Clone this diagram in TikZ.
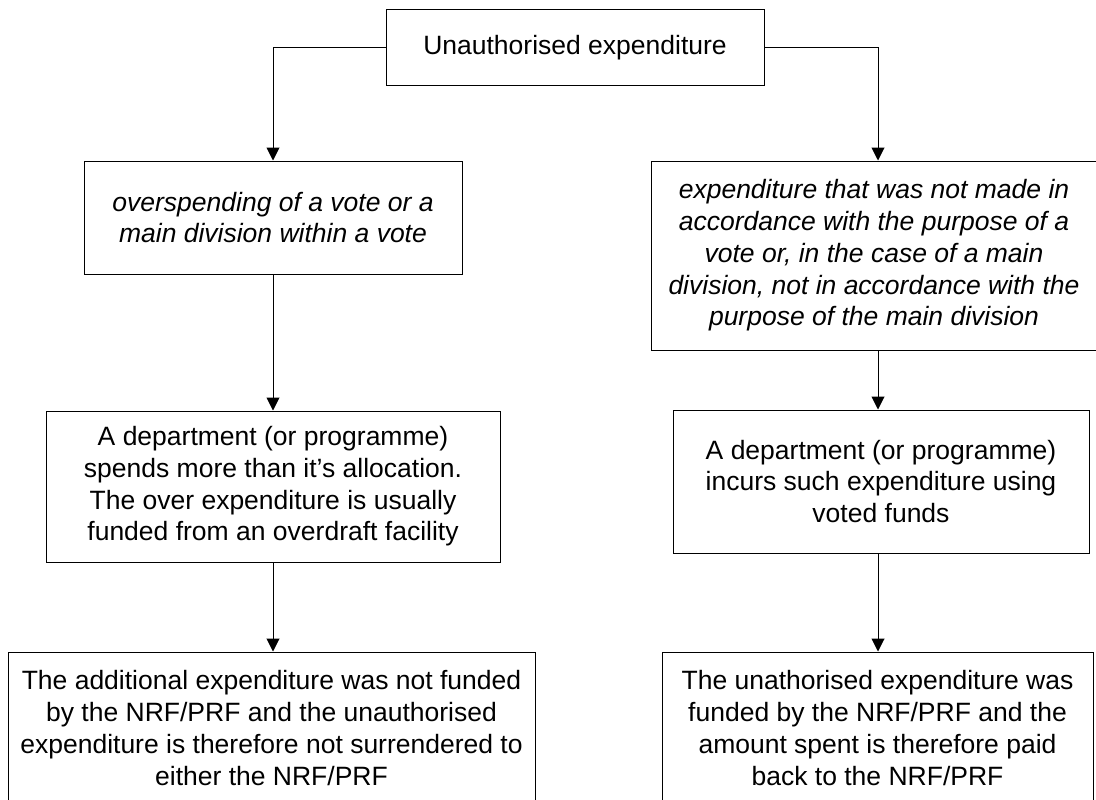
\documentclass[tikz,border=0pt]{standalone}
\usepackage{fontspec}
\setmainfont{Liberation Sans}
\usetikzlibrary{arrows.meta}
\usetikzlibrary{positioning}

\tikzset{
    flowbox/.style={draw, line width=1pt, inner sep=0pt, align=center,
        font=\fontsize{26.5}{31.7}\selectfont},
    itbox/.style={flowbox, font=\fontsize{26.5}{31.7}\selectfont\itshape},
    flowarrow/.style={line width=1pt, -{Triangle[length=13pt,width=13pt]}}
}

\begin{document}
\begin{tikzpicture}[x=1pt,y=-1pt]

    % PAGE SIZE
    \useasboundingbox (0,0) rectangle (1096,800);

    % DRAW BOXES
    \node[flowbox, minimum width=378pt, minimum height=76pt] (unauth) at (575,48) {Unauthorised expenditure};

    \node[itbox, minimum width=378pt, minimum height=113pt] (overspend) at (273,217.5)
        {overspending of a vote or a\\main division within a vote};
    \node[itbox, minimum width=446pt, minimum height=189pt] (purpose) at (874,255.5)
        {expenditure that was not made in\\accordance with the purpose of a\\vote or, in the case of a main\\division, not in accordance with the\\purpose of the main division};

    \node[flowbox, minimum width=454pt, minimum height=151pt] (allocation) at (273,486.5)
        {A department (or programme)\\spends more than it’s allocation.\\The over expenditure is usually\\funded from an overdraft facility};
    \node[flowbox, minimum width=416pt, minimum height=143pt] (voted) at (881,481.5)
        {A department (or programme)\\incurs such expenditure using\\voted funds};

    \node[flowbox, minimum width=527pt, minimum height=152pt] (notfunded) at (271.5,728)
        {The additional expenditure was not funded\\by the NRF/PRF and the unauthorised\\expenditure is therefore not surrendered to\\either the NRF/PRF};
    \node[flowbox, minimum width=431pt, minimum height=152pt] (paidback) at (877.5,728)
        {The unathorised expenditure was\\funded by the NRF/PRF and the\\amount spent is therefore paid\\back to the NRF/PRF};

    % DRAW ARROWS
    \coordinate (lcol) at (273,0);
    \coordinate (rcol) at (878,0);

    \draw[flowarrow] (unauth.west) -| (overspend.north -| lcol);
    \draw[flowarrow] (unauth.east) -| (purpose.north -| rcol);
    \draw[flowarrow] (overspend.south -| lcol) -- (allocation.north -| lcol);
    \draw[flowarrow] (purpose.south -| rcol) -- (voted.north -| rcol);
    \draw[flowarrow] (allocation.south -| lcol) -- (notfunded.north -| lcol);
    \draw[flowarrow] (voted.south -| rcol) -- (paidback.north -| rcol);

\end{tikzpicture}
\end{document}
